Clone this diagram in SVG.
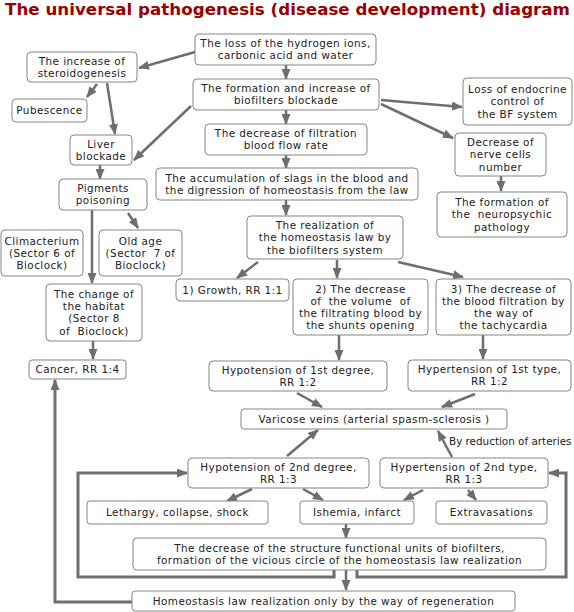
<svg xmlns="http://www.w3.org/2000/svg" width="574" height="612" viewBox="0 0 574 612">
<defs>
<style>
.bx rect{fill:#fff;stroke:#858585;stroke-width:1}
text{font-family:"DejaVu Sans",Verdana,sans-serif;font-size:10.4px;letter-spacing:0.45px;fill:#222;text-anchor:middle}
.title{font-weight:bold;font-size:16.5px;letter-spacing:0;fill:#990000;text-anchor:start}
.lbl{font-size:10.4px;letter-spacing:0;text-anchor:start}
.c path{fill:none;stroke:#6e6e6e;stroke-width:2.5;marker-end:url(#ah)}
.c path.t{stroke-width:3}
</style>
<marker id="ah" markerUnits="userSpaceOnUse" markerWidth="11" markerHeight="9" refX="10" refY="4.5" orient="auto">
<path d="M0,0 L11,4.5 L0,9 z" fill="#6e6e6e"/>
</marker>
</defs>
<rect width="574" height="612" fill="#fff"/>
<text class="title" x="5" y="15" textLength="565" lengthAdjust="spacingAndGlyphs">The universal pathogenesis (disease development) diagram</text>

<g class="c" id="connectors">
<path d="M195,52 L139,68"/>
<path d="M286,65 L286,79"/>
<path d="M97,84 L87,97"/>
<path d="M107,83 L115,134"/>
<path d="M191,106 L134,160"/>
<path d="M286,110 L286,124"/>
<path d="M381,100 L462,107"/>
<path d="M381,104 L453,138"/>
<path d="M501,176 L501,191"/>
<path d="M286,155 L286,168"/>
<path d="M286,200 L286,215"/>
<path d="M100,165 L100,179"/>
<path d="M92,210 L92,283"/>
<path d="M128,213 L138,228"/>
<path d="M258,262 L237,278"/>
<path d="M337,260 L337,278"/>
<path d="M398,262 L463,277"/>
<path d="M93,341 L93,359"/>
<path d="M339,335 L339,360"/>
<path d="M483,335 L483,359"/>
<path d="M297,393 L322,407"/>
<path d="M475,394 L442,407"/>
<path d="M287,456 L318,430"/>
<path d="M452,457 L438,431"/>
<path d="M252,489 L227,501"/>
<path d="M303,489 L323,500"/>
<path d="M423,490 L404,500"/>
<path d="M468,490 L476,500"/>
<path d="M346,524 L346,538"/>
<path d="M346,570 L346,590"/>
<path class="t" d="M334,570 L334,577 L78,577 L78,473 L187,473"/>
<path class="t" d="M357,570 L357,577 L566,577 L566,473 L549,473"/>
<path class="t" d="M132,602 L55,602 L55,380"/>
</g>
<text class="lbl" x="449" y="445">By reduction of arteries</text>

<g class="bx" id="n-loss"><rect x="195" y="34" width="181" height="31" rx="4"/><text x="285.5" y="47.2">The loss of the hydrogen ions,</text><text x="285.5" y="59.4">carbonic acid and water</text></g>
<g class="bx" id="n-steroid"><rect x="27" y="52" width="110" height="30" rx="4"/><text x="82" y="64.7">The increase of</text><text x="82" y="76.9">steroidogenesis</text></g>
<g class="bx" id="n-pubescence"><rect x="12" y="99" width="75" height="23" rx="4"/><text x="49.5" y="114.3">Pubescence</text></g>
<g class="bx" id="n-blockade"><rect x="193" y="79" width="186" height="31" rx="4"/><text x="286" y="92.2">The formation and increase of</text><text x="286" y="104.4">biofilters blockade</text></g>
<g class="bx" id="n-endocrine"><rect x="463" y="78" width="109" height="47" rx="4"/><text x="517.5" y="93.1">Loss of endocrine</text><text x="517.5" y="105.3">control of</text><text x="517.5" y="117.5">the BF system</text></g>
<g class="bx" id="n-filtration"><rect x="205" y="124" width="162" height="31" rx="4"/><text x="286" y="137.2">The decrease of filtration</text><text x="286" y="149.4">blood flow rate</text></g>
<g class="bx" id="n-liver"><rect x="70" y="135" width="62" height="30" rx="4"/><text x="101" y="147.7">Liver</text><text x="101" y="159.9">blockade</text></g>
<g class="bx" id="n-nerve"><rect x="455" y="133" width="91" height="43" rx="4"/><text x="500.5" y="146.1">Decrease of</text><text x="500.5" y="158.3">nerve cells</text><text x="500.5" y="170.5">number</text></g>
<g class="bx" id="n-pigments"><rect x="59" y="179" width="88" height="31" rx="4"/><text x="103" y="192.2">Pigments</text><text x="103" y="204.4">poisoning</text></g>
<g class="bx" id="n-slags"><rect x="156" y="168" width="262" height="32" rx="4"/><text x="287" y="181.7">The accumulation of slags in the blood and</text><text x="287" y="193.9">the digression of homeostasis from the law</text></g>
<g class="bx" id="n-neuro"><rect x="437" y="192" width="130" height="45" rx="4"/><text x="502" y="206.1">The formation of</text><text x="502" y="218.3" xml:space="preserve">the  neuropsychic</text><text x="502" y="230.5">pathology</text></g>
<g class="bx" id="n-realization"><rect x="247" y="216" width="156" height="43" rx="4"/><text x="325" y="229.1">The realization of</text><text x="325" y="241.3">the homeostasis law by</text><text x="325" y="253.5">the biofilters system</text></g>
<g class="bx" id="n-climacterium"><rect x="1" y="230" width="82" height="46" rx="4"/><text x="42" y="244.6">Climacterium</text><text x="42" y="256.8">(Sector 6 of</text><text x="42" y="269">Bioclock)</text></g>
<g class="bx" id="n-oldage"><rect x="99" y="230" width="83" height="46" rx="4"/><text x="140.5" y="244.6">Old age</text><text x="140.5" y="256.8" xml:space="preserve">(Sector  7 of</text><text x="140.5" y="269">Bioclock)</text></g>
<g class="bx" id="n-growth"><rect x="176" y="279" width="113" height="22" rx="4"/><text x="232.5" y="293.8">1) Growth, RR 1:1</text></g>
<g class="bx" id="n-shunts"><rect x="293" y="279" width="135" height="56" rx="4"/><text x="360.5" y="292.5">2) The decrease</text><text x="360.5" y="304.7" xml:space="preserve">of  the volume  of</text><text x="360.5" y="316.9">the filtrating blood by</text><text x="360.5" y="329.1">the shunts opening</text></g>
<g class="bx" id="n-tachy"><rect x="436" y="279" width="135" height="56" rx="4"/><text x="503.5" y="292.5">3) The decrease of</text><text x="503.5" y="304.7">the blood filtration by</text><text x="503.5" y="316.9">the way of</text><text x="503.5" y="329.1">the tachycardia</text></g>
<g class="bx" id="n-habitat"><rect x="46" y="284" width="96" height="57" rx="4"/><text x="94" y="298">The change of</text><text x="94" y="310.2">the habitat</text><text x="94" y="322.4">(Sector 8</text><text x="94" y="334.6" xml:space="preserve">of  Bioclock)</text></g>
<g class="bx" id="n-cancer"><rect x="29" y="360" width="97" height="19" rx="3"/><text x="77.5" y="373.3">Cancer, RR 1:4</text></g>
<g class="bx" id="n-hypo1"><rect x="209" y="361" width="178" height="30" rx="4"/><text x="298" y="373.7">Hypotension of 1st degree,</text><text x="298" y="385.9">RR 1:2</text></g>
<g class="bx" id="n-hyper1"><rect x="408" y="360" width="163" height="31" rx="4"/><text x="489.5" y="373.2">Hypertension of 1st type,</text><text x="489.5" y="385.4">RR 1:2</text></g>
<g class="bx" id="n-varicose"><rect x="241" y="409" width="266" height="20" rx="3"/><text x="374" y="422.8" xml:space="preserve">Varicose veins (arterial spasm-sclerosis )</text></g>
<g class="bx" id="n-hypo2"><rect x="188" y="458" width="181" height="30" rx="4"/><text x="278.5" y="470.7">Hypotension of 2nd degree,</text><text x="278.5" y="482.9">RR 1:3</text></g>
<g class="bx" id="n-hyper2"><rect x="380" y="458" width="168" height="30" rx="4"/><text x="464" y="470.7">Hypertension of 2nd type,</text><text x="464" y="482.9">RR 1:3</text></g>
<g class="bx" id="n-lethargy"><rect x="87" y="501" width="181" height="23" rx="3"/><text x="177.5" y="516.3">Lethargy, collapse, shock</text></g>
<g class="bx" id="n-ishemia"><rect x="300" y="501" width="114" height="23" rx="3"/><text x="357" y="516.3">Ishemia, infarct</text></g>
<g class="bx" id="n-extravasations"><rect x="436" y="501" width="111" height="23" rx="3"/><text x="491.5" y="516.3">Extravasations</text></g>
<g class="bx" id="n-vicious"><rect x="133" y="538" width="413" height="32" rx="4"/><text x="339.5" y="551.7">The decrease of the structure functional units of biofilters,</text><text x="339.5" y="563.9">formation of the vicious circle of the homeostasis law realization</text></g>
<g class="bx" id="n-regeneration"><rect x="132" y="591" width="383" height="20" rx="3"/><text x="323.5" y="604.8">Homeostasis law realization only by the way of regeneration</text></g>
</svg>
